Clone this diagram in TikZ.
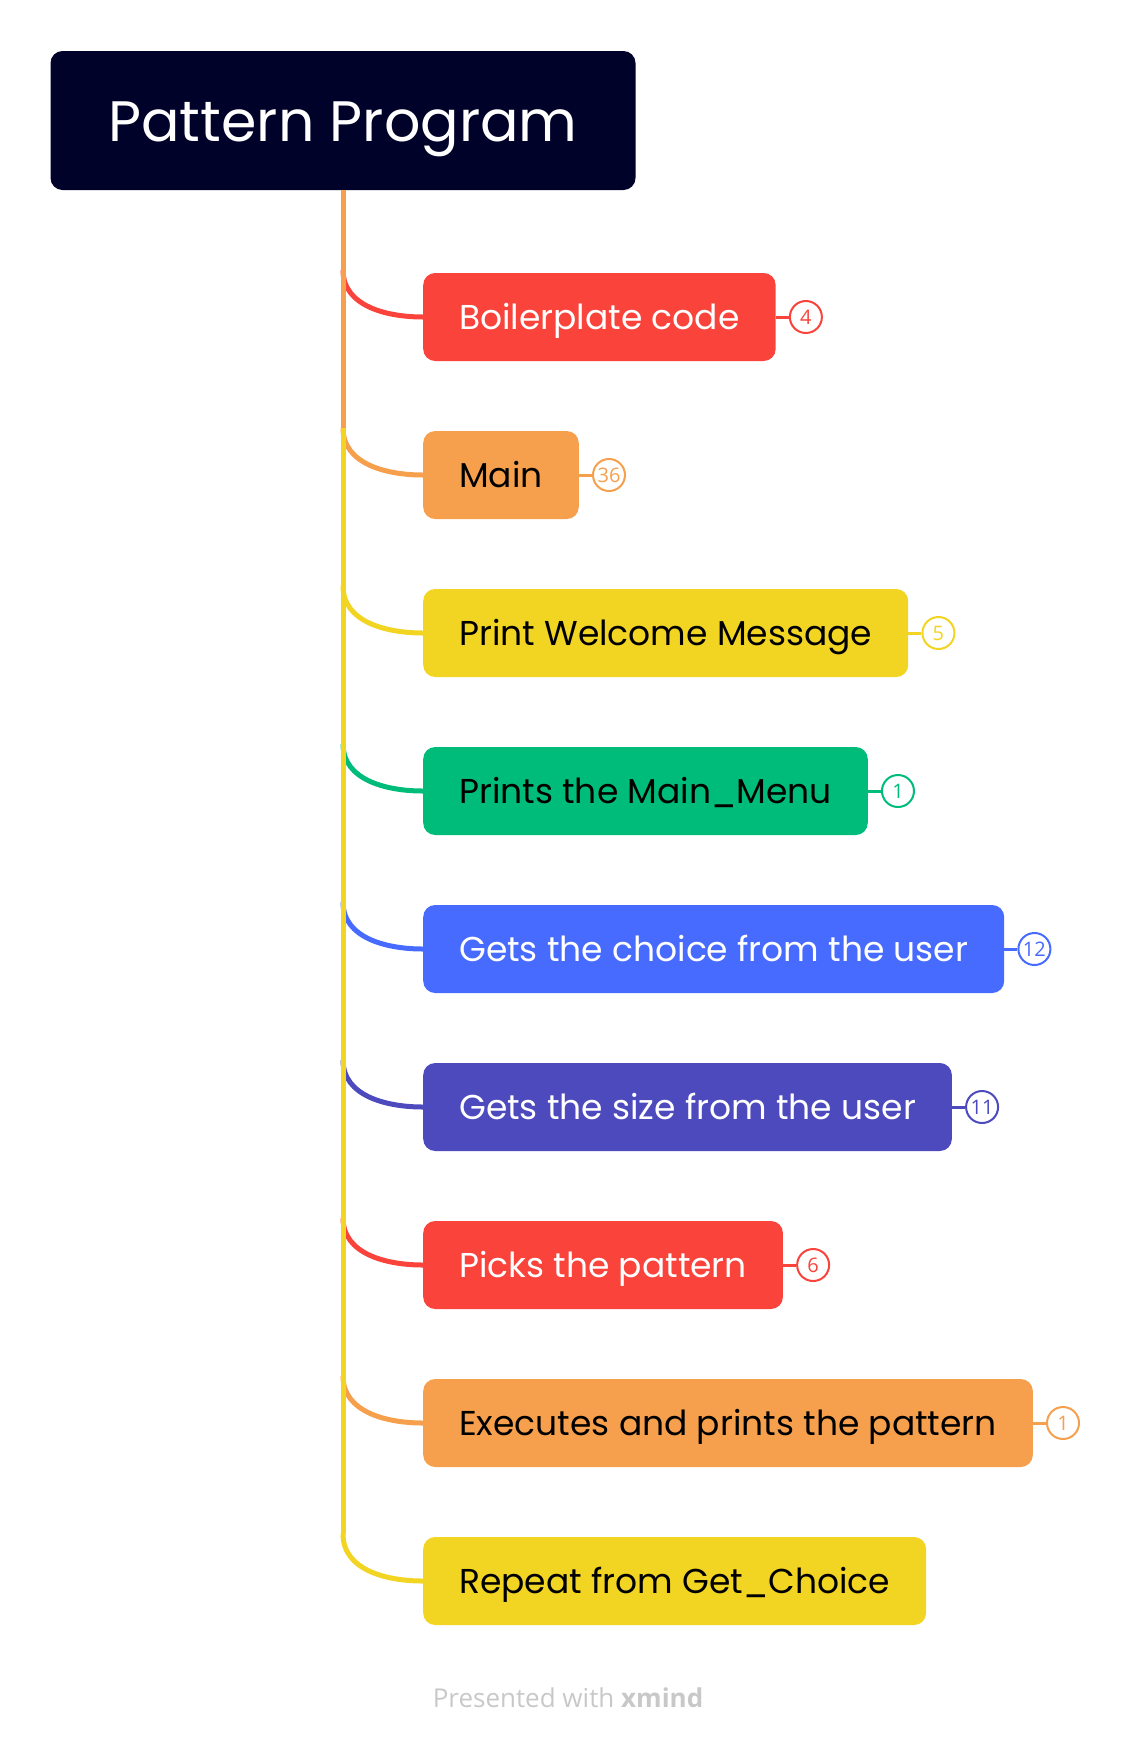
\documentclass[tikz,border=0pt]{standalone}
\usepackage{fontspec}
\setmainfont{Open Sans}
\newfontfamily\topicfont{Poppins}
\usetikzlibrary{positioning}

\definecolor{navy}{HTML}{000229}
\definecolor{redB}{HTML}{F9433B}
\definecolor{orangeB}{HTML}{F6A04D}
\definecolor{yellowB}{HTML}{F2D422}
\definecolor{greenB}{HTML}{00BC7B}
\definecolor{blueB}{HTML}{486BFF}
\definecolor{indigoB}{HTML}{4D4ABE}
\definecolor{footgray}{HTML}{C8C8C8}

\begin{document}
\begin{tikzpicture}[x=1pt, y=-1pt, node distance=13pt,
    title/.style = {fill=navy, rounded corners=12pt, text=white, minimum width=585pt, minimum height=139pt,
        font=\topicfont\fontsize{57}{68}\selectfont, text height=41pt, text depth=0pt},
    topic/.style = {anchor=west, rounded corners=12pt, minimum height=88pt, inner xsep=36pt,
        font=\topicfont\fontsize{34.5}{40}\selectfont, text height=24pt, text depth=0pt},
    badge/.style = {draw, circle, line width=2pt, fill=white, minimum size=32pt, inner sep=0pt,
        font=\fontsize{20}{22}\selectfont},
    branch/.style = {line width=5pt},
    tick/.style = {line width=3pt}]
    \useasboundingbox (0,0) rectangle (1132,1746);

    \node[title] (root) at (343,120.5) {Pattern Program};

    \node[topic, fill=redB, text=white] (t1) at (423,317) {Boilerplate code};
    \node[topic, fill=orangeB, text=black] (t2) at (423,475) {Main};
    \node[topic, fill=yellowB, text=black] (t3) at (423,633) {Print Welcome Message};
    \node[topic, fill=greenB, text=black] (t4) at (423,791) {Prints the Main\_Menu};
    \node[topic, fill=blueB, text=white] (t5) at (423,949) {Gets the choice from the user};
    \node[topic, fill=indigoB, text=white] (t6) at (423,1107) {Gets the size from the user};
    \node[topic, fill=redB, text=white] (t7) at (423,1265) {Picks the pattern};
    \node[topic, fill=orangeB, text=black] (t8) at (423,1423) {Executes and prints the pattern};
    \node[topic, fill=yellowB, text=black] (t9) at (423,1581) {Repeat from Get\_Choice};

    % where each branch leaves the trunk
    \coordinate (j1) at (343,270);
    \coordinate (j2) at (343,428);
    \coordinate (j3) at (343,586);
    \coordinate (j4) at (343,744);
    \coordinate (j5) at (343,902);
    \coordinate (j6) at (343,1060);
    \coordinate (j7) at (343,1218);
    \coordinate (j8) at (343,1376);
    \coordinate (j9) at (343,1534);

\draw[branch, redB] (j1) to[out=-90, in=180] (t1.west);
\draw[branch, orangeB] (j2) to[out=-90, in=180] (t2.west);
\draw[branch, yellowB] (j3) to[out=-90, in=180] (t3.west);
\draw[branch, greenB] (j4) to[out=-90, in=180] (t4.west);
\draw[branch, blueB] (j5) to[out=-90, in=180] (t5.west);
\draw[branch, indigoB] (j6) to[out=-90, in=180] (t6.west);
\draw[branch, redB] (j7) to[out=-90, in=180] (t7.west);
\draw[branch, orangeB] (j8) to[out=-90, in=180] (t8.west);
\draw[branch, yellowB] (j9) to[out=-90, in=180] (t9.west);

\draw[branch, yellowB] (j2) -- (j9);
\draw[branch, orangeB] (root.south) -- (j2);

    % counts
    \node[badge, draw=redB, text=redB, right=of t1] (c1) {4};
    \node[badge, draw=orangeB, text=orangeB, right=of t2] (c2) {36};
    \node[badge, draw=yellowB, text=yellowB, right=of t3] (c3) {5};
    \node[badge, draw=greenB, text=greenB, right=of t4] (c4) {1};
    \node[badge, draw=blueB, text=blueB, right=of t5] (c5) {12};
    \node[badge, draw=indigoB, text=indigoB, right=of t6] (c6) {11};
    \node[badge, draw=redB, text=redB, right=of t7] (c7) {6};
    \node[badge, draw=orangeB, text=orangeB, right=of t8] (c8) {1};

\draw[tick, redB] (t1) -- (c1);
\draw[tick, orangeB] (t2) -- (c2);
\draw[tick, yellowB] (t3) -- (c3);
\draw[tick, greenB] (t4) -- (c4);
\draw[tick, blueB] (t5) -- (c5);
\draw[tick, indigoB] (t6) -- (c6);
\draw[tick, redB] (t7) -- (c7);
\draw[tick, orangeB] (t8) -- (c8);

    \node[text=footgray, font=\fontsize{26}{30}\selectfont, text height=20pt, text depth=0pt] (foot) at (568,1697)
        {Presented with \textbf{xmind}};
\end{tikzpicture}
\end{document}
